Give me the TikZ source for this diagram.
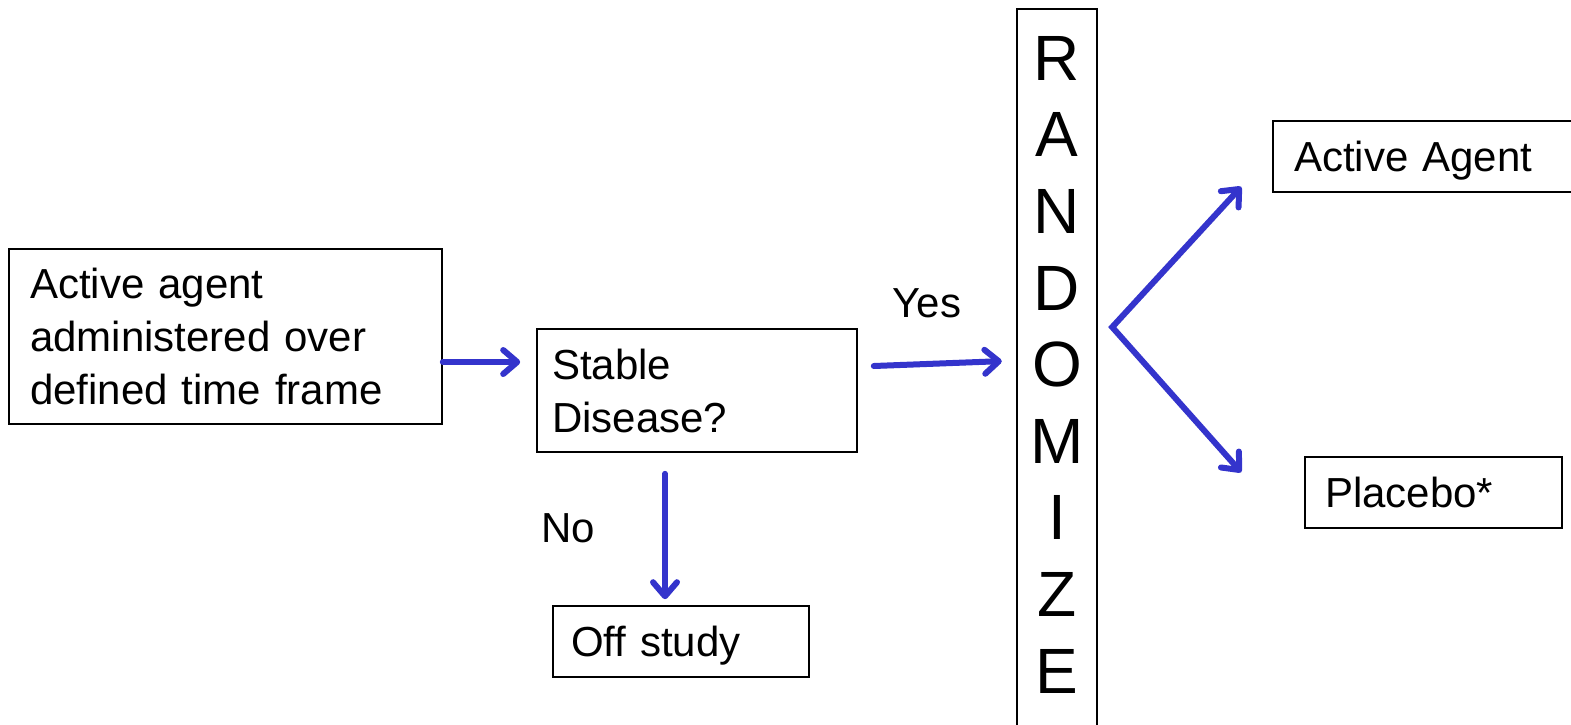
\documentclass[tikz,border=0pt]{standalone}
\usepackage{fontspec}
\setmainfont{Liberation Sans}
\usetikzlibrary{arrows.meta,calc}
\definecolor{flowblue}{RGB}{52,52,204}
\begin{document}
\begin{tikzpicture}[x=1pt,y=-1pt,
  >={Straight Barb[length=14pt,width=24pt,round]},
  box/.style={draw=black, line width=1.6pt, rectangle, align=left,
    inner ysep=0pt, font=\fontsize{42}{53}\selectfont},
  lbl/.style={font=\fontsize{42}{53}\selectfont, inner sep=0pt, anchor=base},
  arr/.style={line width=6pt, draw=flowblue, ->, line cap=round, line join=round,
    preaction={draw=black, opacity=0.12, transform canvas={shift={(1.5pt,-2.5pt)}}}},
  boxline/.style={draw=black, line width=1.6pt}]
\useasboundingbox (0,0) rectangle (1571,724);
\clip (0,0) rectangle (1571,724);

% boxes
\node[box, minimum width=433pt, minimum height=175pt, inner xsep=21pt, text width=391pt]
  (agent) at (225.5,336.5) {Active agent\\administered over\\defined time frame};
\node[box, minimum width=320pt, minimum height=123pt, inner xsep=15pt, text width=290pt]
  (stable) at (697,390.5) {Stable\\Disease?};
\node[box, minimum width=256pt, minimum height=71pt, inner xsep=18pt, text width=220pt, text depth=0pt]
  (off) at (681,641.5) {Off study};
\node[box, minimum width=330pt, minimum height=71pt, inner xsep=21pt, text width=288pt, text depth=0pt]
  (active) at (1438,156.5) {Active Agent};
\node[box, minimum width=257pt, minimum height=71pt, inner xsep=20pt, text width=217pt, text depth=0pt]
  (placebo) at (1433.5,492.5) {Placebo*};

% vertical randomisation column
\node[font=\fontsize{64}{76.6}\selectfont, align=center, anchor=north,
  inner ysep=27pt, inner xsep=0pt, minimum width=80pt]
  (rand) at (1057,9) {R\\A\\N\\D\\O\\M\\I\\Z\\E};
\draw[boxline] ($(rand.north west)+(0,800)$) -- (rand.north west)
  -- (rand.north east) -- ($(rand.north east)+(0,800)$);

% labels
\node[lbl] (yes) at (927,317) {Yes};
\node[lbl] (no) at (568,542) {No};

% connectors
\draw[arr] ($(agent.east)+(0,25.5)$) -- ($(stable.west)+(-16,-28.5)$);
\draw[arr] ($(stable.east)+(16,-24.5)$) -- ($(rand.west)+(-15,-3.5)$);
\draw[arr] ($(stable.south -| off.north)+(-16,21)$) -- ($(off.north)+(-16,-6)$);
\coordinate (br) at ($(rand.east)+(15,-37.5)$);
\coordinate (tipA) at ($(active.south west)+(-31,-6)$);
\coordinate (tipB) at ($(placebo.north west)+(-63,16)$);
\draw[arr, <->, line join=miter] (tipA) -- (br) -- (tipB);
\end{tikzpicture}
\end{document}
